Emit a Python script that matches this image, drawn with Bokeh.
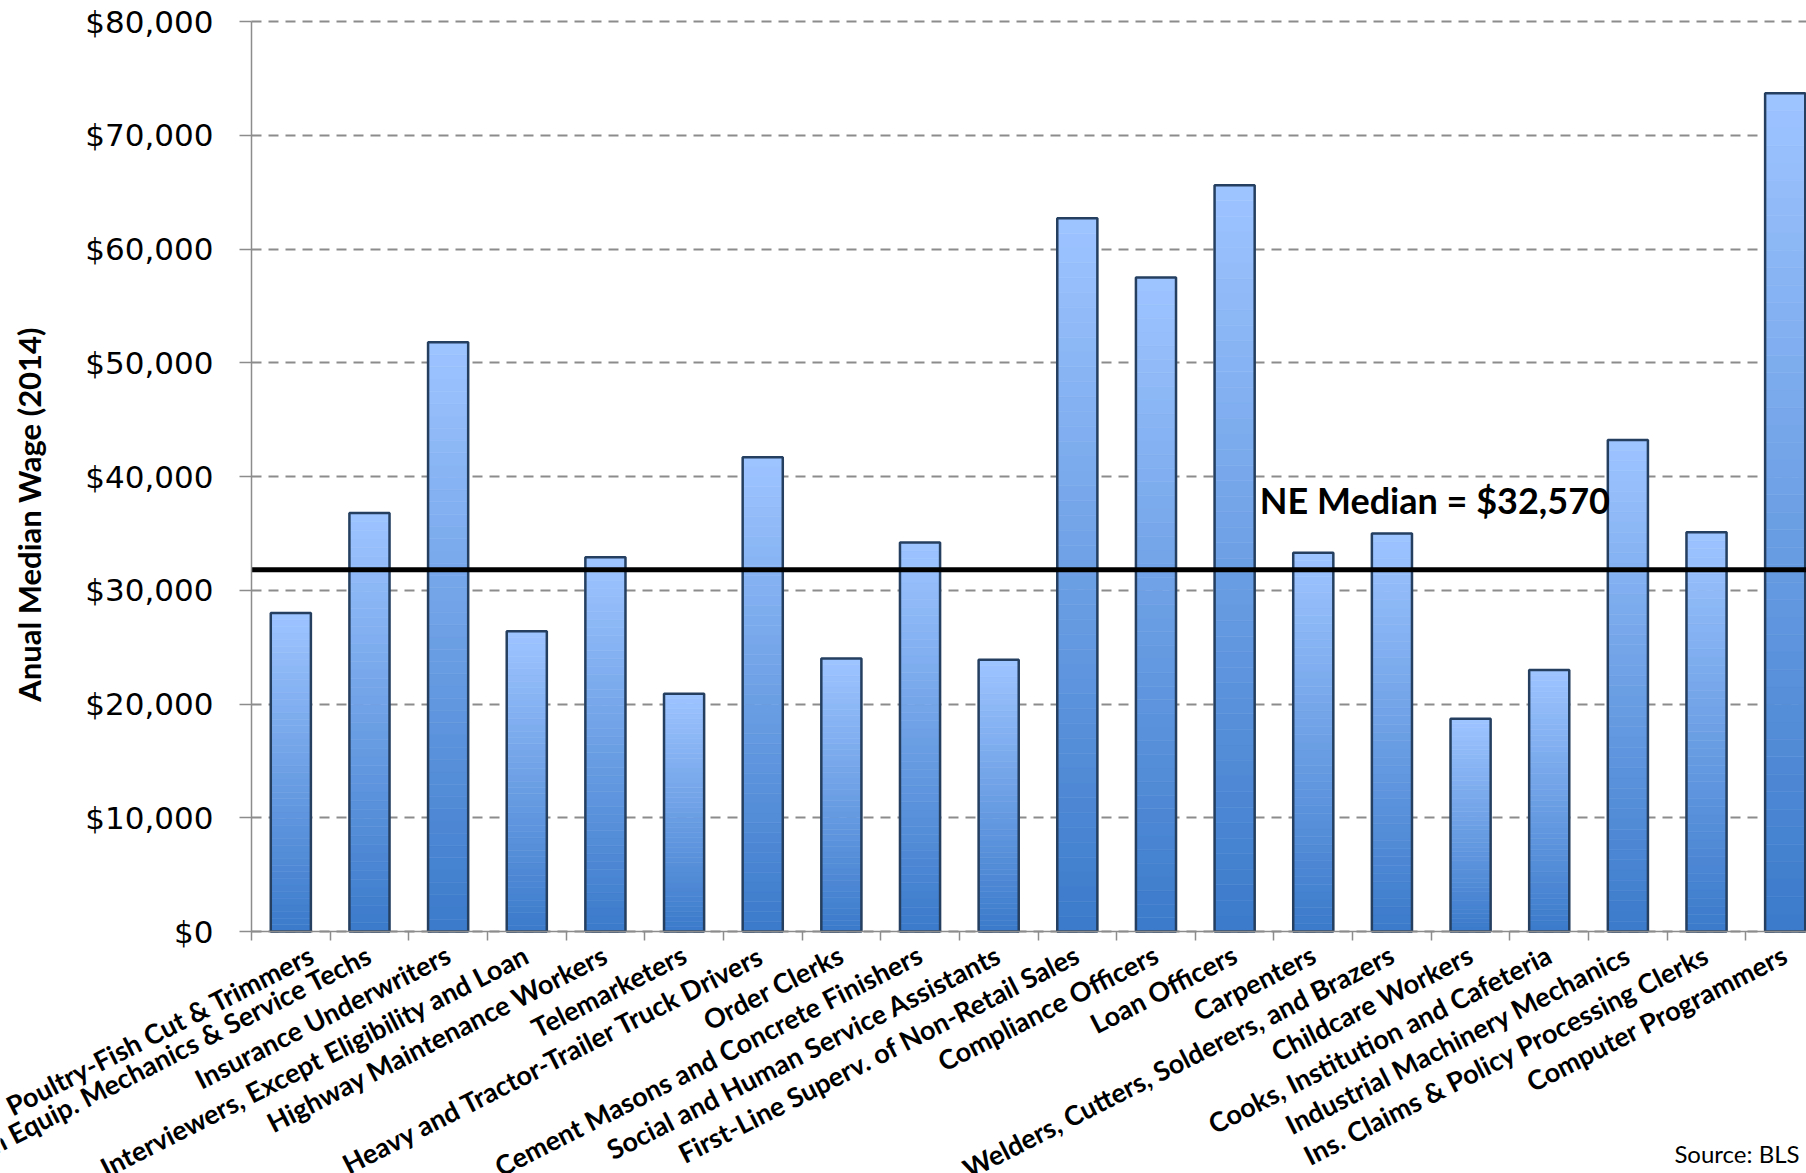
import math
from bokeh.plotting import figure
from bokeh.models import (Range1d, FixedTicker, NumeralTickFormatter, ColumnDataSource,
                          Label, LinearAxis, Grid)
from bokeh.embed import file_html
from bokeh.resources import INLINE

# ---------------- data ----------------
occupations = [
    "Poultry-Fish Cut & Trimmers",
    "Farm Equip. Mechanics & Service Techs",
    "Insurance Underwriters",
    "Interviewers, Except Eligibility and Loan",
    "Highway Maintenance Workers",
    "Telemarketers",
    "Heavy and Tractor-Trailer Truck Drivers",
    "Order Clerks",
    "Cement Masons and Concrete Finishers",
    "Social and Human Service Assistants",
    "First-Line Superv. of Non-Retail Sales",
    "Compliance Officers",
    "Loan Officers",
    "Carpenters",
    "Welders, Cutters, Solderers, and Brazers",
    "Childcare Workers",
    "Cooks, Institution and Cafeteria",
    "Industrial Machinery Mechanics",
    "Ins. Claims & Policy Processing Clerks",
    "Computer Programmers",
]
median_wage = [28000, 36800, 51800, 26400, 32900, 20900, 41700, 24000, 34200, 23900,
               62700, 57500, 65600, 33300, 35000, 18700, 23000, 43200, 35100, 73700]
ne_median_label = "NE Median = $32,570"
ne_median_line = 31800   # level at which the reference line is drawn
y_ticks = [0, 10000, 20000, 30000, 40000, 50000, 60000, 70000, 80000]
y_title = "Anual Median Wage (2014)"
source_note = "Source: BLS"

# ---------------- geometry (screen layout) ----------------
W, H = 1806, 1173
axis_px_x = 251          # where the value axis sits
zero_px_y = 931          # where $0 sits
top_px_y = 21            # where $80,000 sits
cat_px = 78.65           # width of one category
val_per_px = 80000 / (zero_px_y - top_px_y)

x0 = -axis_px_x / cat_px
x1 = (W - axis_px_x) / cat_px
y1 = 80000 + top_px_y * val_per_px
y0 = -(H - zero_px_y) * val_per_px

def xpx(px):
    return x0 + px / cat_px

def ypx(py):
    return y1 - py * val_per_px

p = figure(width=W, height=H, output_backend="svg", toolbar_location=None,
           x_range=Range1d(x0, x1), y_range=Range1d(y0, y1),
           x_axis_location=None, y_axis_location=None,
           min_border=0, min_border_left=0, min_border_right=0,
           min_border_top=0, min_border_bottom=0)
p.outline_line_color = None
p.background_fill_color = "white"
p.border_fill_color = "white"
p.center = []   # drop the default grids

n = len(occupations)
centers = [i + 0.5 for i in range(n)]
boundaries = list(range(0, n + 1))

# ---------------- grid ----------------
grid = Grid(dimension=1, ticker=FixedTicker(ticks=y_ticks))
grid.grid_line_color = "#8C8C8C"
grid.grid_line_width = 2
grid.grid_line_dash = "10 7"
try:
    grid.cross_bounds = (0, x1)
except Exception:
    pass
p.add_layout(grid)

# ---------------- gradient bars ----------------
N = 48
top_rgb = (157, 196, 255)
bot_rgb = (60, 123, 203)
xs, bots, tops, cols = [], [], [], []
for c, v in zip(centers, median_wage):
    for k in range(N):
        f = k / (N - 1)
        r = int(round(bot_rgb[0] + (top_rgb[0] - bot_rgb[0]) * f))
        g = int(round(bot_rgb[1] + (top_rgb[1] - bot_rgb[1]) * f))
        b = int(round(bot_rgb[2] + (top_rgb[2] - bot_rgb[2]) * f))
        xs.append(c)
        bots.append(v * k / N)
        tops.append(v * (k + 1) / N)
        cols.append("#%02x%02x%02x" % (r, g, b))
grad = ColumnDataSource(dict(x=xs, bottom=bots, top=tops, color=cols))
p.vbar(x="x", bottom="bottom", top="top", width=0.51, source=grad,
       fill_color="color", line_color="color", line_width=0.6)

bars = ColumnDataSource(dict(x=centers, top=median_wage))
p.vbar(x="x", top="top", bottom=0, width=0.51, source=bars,
       fill_color=None, line_color="#243F60", line_width=2.5)

# ---------------- median line ----------------
p.ray(x=[0], y=[ne_median_line], length=0, angle=0, line_color="black", line_width=5)
p.add_layout(Label(x=12.82, y=ne_median_line, y_offset=70, text=ne_median_label,
                   text_font="Lato", text_font_style="bold", text_font_size="36px",
                   text_color="black", text_align="left", text_baseline="alphabetic"))

# ---------------- value axis ----------------
ya = LinearAxis(fixed_location=0, bounds=(0, 80000))
ya.ticker = FixedTicker(ticks=y_ticks)
ya.formatter = NumeralTickFormatter(format="$0,0")
ya.axis_line_color = "#8C8C8C"
ya.axis_line_width = 1.5
ya.major_tick_line_color = "#8C8C8C"
ya.major_tick_line_width = 1.5
ya.major_tick_out = 12
ya.major_tick_in = 0
ya.minor_tick_line_color = None
ya.major_label_standoff = 26
ya.major_label_text_font = "DejaVu Sans"
ya.major_label_text_font_size = "31px"
ya.major_label_text_font_style = "normal"
ya.major_label_text_color = "black"
p.add_layout(ya, "left")

# ---------------- category axis ----------------
xa = LinearAxis(fixed_location=0, bounds=(0, x1))
xa.ticker = FixedTicker(ticks=centers, minor_ticks=boundaries)
xa.major_label_overrides = {c: name for c, name in zip(centers, occupations)}
xa.major_label_orientation = math.radians(27)
xa.major_label_standoff = 12
xa.major_label_text_font = "Lato"
xa.major_label_text_font_style = "bold"
xa.major_label_text_font_size = "27px"
xa.major_label_text_color = "black"
xa.axis_line_color = "#8C8C8C"
xa.axis_line_width = 1.5
xa.major_tick_line_color = None
xa.major_tick_out = 0
xa.major_tick_in = 0
xa.minor_tick_line_color = "#8C8C8C"
xa.minor_tick_line_width = 1.5
xa.minor_tick_out = 9
xa.minor_tick_in = 0
p.add_layout(xa, "below")

# y-axis title
p.add_layout(Label(x=xpx(28), y=ypx(514), text=y_title, angle=math.pi / 2,
                   text_align="center", text_baseline="middle",
                   text_font="Lato", text_font_style="bold", text_font_size="31px",
                   text_color="black"))

# source note
p.add_layout(Label(x=xpx(1799), y=ypx(1153), text=source_note,
                   text_align="right", text_baseline="alphabetic",
                   text_font="Lato", text_font_size="24px", text_color="black"))

open("out.html", "w").write(file_html(p, INLINE))
